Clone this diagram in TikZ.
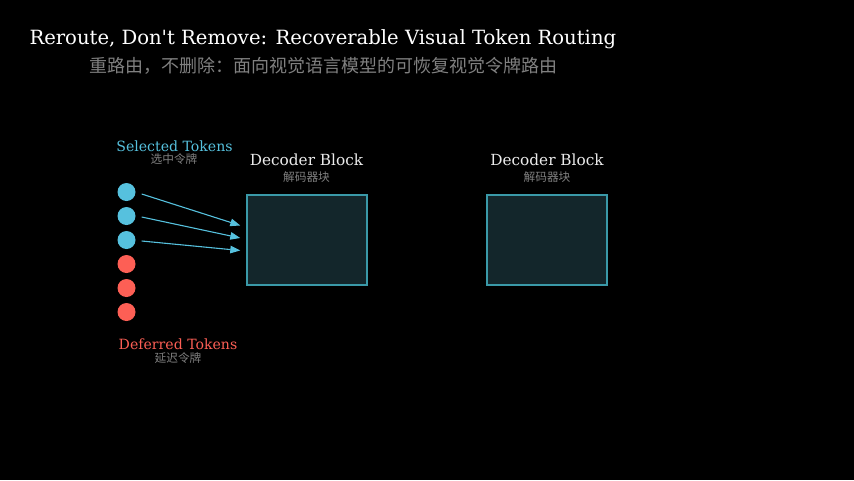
\documentclass[tikz,border=0pt]{standalone}
\usepackage{fontspec}
\setmainfont{DejaVu Serif}
\newfontfamily\plainserif{DejaVu Serif}
\newfontfamily\cjk{Noto Sans CJK SC}
\usetikzlibrary{arrows.meta,calc}
\definecolor{selcol}{HTML}{56C1DE}
\definecolor{defcol}{HTML}{FD5F55}
\definecolor{blkfill}{HTML}{13262B}
\definecolor{blkline}{HTML}{3A99A8}
\definecolor{subgrey}{HTML}{808080}
\begin{document}
\begin{tikzpicture}[x=1pt,y=-1pt,
  txt/.style={inner sep=0pt,outer sep=0pt},
  token/.style={circle,inner sep=0pt,minimum size=18pt},
  seltok/.style={token,fill=selcol},
  deftok/.style={token,fill=defcol},
  block/.style={draw=blkline,fill=blkfill,line width=1.4pt,minimum width=120pt,minimum height=90pt,inner sep=0pt},
  flow/.style={draw=selcol,line width=1.1pt,-{Triangle[length=10pt,width=7.5pt]}},
  cjksub/.style={txt,text=subgrey,font=\cjk\fontsize{11.7}{13}\selectfont},
  toklab/.style={txt,anchor=base,font=\fontsize{14.1}{16}\selectfont},
  blabel/.style={txt,anchor=base,text=white!92!black,font=\fontsize{15.3}{17}\selectfont}]
\fill[black] (0,0) rectangle (854,480);
\useasboundingbox (0,0) rectangle (854,480);
% title
\node[txt,anchor=base west,text=white,font=\plainserif\fontsize{19.6}{23}\selectfont] (title) at (29.5,44) {Reroute, Don't Remove: Recoverable Visual Token Routing};
\node[txt,text=subgrey,font=\cjk\fontsize{18}{21}\selectfont] (subtitle) at (323.5,66) {重路由，不删除：面向视觉语言模型的可恢复视觉令牌路由};
% token labels
\node[toklab,text=selcol] (sellab) at (174.5,151.5) {Selected Tokens};
\node[cjksub] (selcn) at (174,159.5) {选中令牌};
\node[toklab,text=defcol] (deflab) at (178,349.5) {Deferred Tokens};
\node[cjksub] (defcn) at (178,358) {延迟令牌};
% tokens
\node[seltok] (t1) at (126.5,192) {};
\node[seltok] (t2) at (126.5,216) {};
\node[seltok] (t3) at (126.5,240) {};
\node[deftok] (t4) at (126.5,264) {};
\node[deftok] (t5) at (126.5,288) {};
\node[deftok] (t6) at (126.5,312) {};
% blocks
\node[block] (b1) at (307,240) {};
\node[block] (b2) at (547,240) {};
\node[blabel] (b1lab) at (306.5,165.7) {Decoder Block};
\node[cjksub] (b1cn) at (306.5,177.5) {解码器块};
\node[blabel] (b2lab) at (547,165.7) {Decoder Block};
\node[cjksub] (b2cn) at (547,177.5) {解码器块};
% arrow end points
\coordinate (e1) at ($(b1.west)+(-6,-14.5)$);
\coordinate (e2) at ($(b1.west)+(-6,-2)$);
\coordinate (e3) at ($(b1.west)+(-6,10.5)$);
\draw[flow] ($(t1.east)+(6,2)$) -- (e1);
\draw[flow] ($(t2.east)+(6,1)$) -- (e2);
\draw[flow] ($(t3.east)+(6,1)$) -- (e3);
\end{tikzpicture}
\end{document}
